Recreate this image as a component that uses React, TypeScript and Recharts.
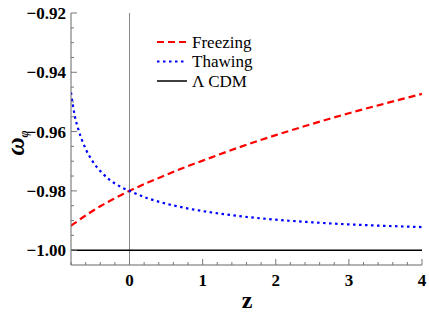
import React from 'react';
import { LineChart, Line, XAxis, YAxis, ReferenceLine, Legend } from 'recharts';

const zValues = [-0.8, -0.775, -0.75, -0.7, -0.6, -0.5, -0.4, -0.3, -0.2, -0.1, 0, 0.25, 0.5, 0.75, 1, 1.5, 2, 2.5, 3, 3.5, 4];
const freezing = [-0.9918, -0.9913, -0.9909, -0.99, -0.9883, -0.9867, -0.9852, -0.9838, -0.9825, -0.9812, -0.98, -0.9772, -0.9746, -0.9721, -0.9698, -0.9653, -0.9612, -0.9574, -0.9538, -0.9505, -0.9473];
const thawing = [-0.9468, -0.951, -0.9545, -0.9592, -0.9658, -0.9702, -0.9733, -0.9757, -0.9775, -0.9789, -0.98, -0.9825, -0.9843, -0.9857, -0.9868, -0.9885, -0.9897, -0.9906, -0.9913, -0.9918, -0.9922];
const lcdm = [-1, -1, -1, -1, -1, -1, -1, -1, -1, -1, -1, -1, -1, -1, -1, -1, -1, -1, -1, -1, -1];

const seriesNames = ['Freezing', 'Thawing', '\u039B CDM'];

const xMajorTicks = [0, 1, 2, 3, 4];
const xTickLabels = ['0', '1', '2', '3', '4'];
const xMinorTicks = [-0.8, -0.6, -0.4, -0.2, 0.2, 0.4, 0.6, 0.8, 1.2, 1.4, 1.6, 1.8, 2.2, 2.4, 2.6, 2.8, 3.2, 3.4, 3.6, 3.8];
const yMajorTicks = [-1.0, -0.98, -0.96, -0.94, -0.92];
const yTickLabels = ['\u22121.00', '\u22120.98', '\u22120.96', '\u22120.94', '\u22120.92'];
const yMinorTicks = [-0.995, -0.99, -0.985, -0.975, -0.97, -0.965, -0.955, -0.95, -0.945, -0.935, -0.93, -0.925];

const data = zValues.map((z, i) => ({ z, freezing: freezing[i], thawing: thawing[i], lcdm: lcdm[i] }));

const xAll = [...xMinorTicks, ...xMajorTicks].sort((a, b) => a - b);
const yAll = [...yMinorTicks, ...yMajorTicks].sort((a, b) => a - b);

const FONT = "'Liberation Serif', 'Nimbus Roman', 'Nimbus Roman No9 L', FreeSerif, 'Noto Serif', 'DejaVu Serif', 'Times New Roman', serif";
const TICK_COLOR = '#777';
const FRAME_COLOR = '#666';

const findMajor = (arr: number[], v: number) => arr.findIndex((t) => Math.abs(t - v) < 1e-6);

const XTickBottom = (props: any) => {
  const { x, y, payload } = props;
  const idx = findMajor(xMajorTicks, payload.value);
  const major = idx >= 0;
  return (
    <g>
      <line x1={x} x2={x} y1={y} y2={y - (major ? 6 : 3)} stroke={TICK_COLOR} strokeWidth={1} />
      {major && (
        <text x={x} y={y + 21} textAnchor="middle" style={{ fontFamily: FONT }} fontWeight="bold" fontSize={17} fill="#000">
          {xTickLabels[idx]}
        </text>
      )}
    </g>
  );
};

const XTickTop = (props: any) => {
  const { x, y, payload } = props;
  const major = findMajor(xMajorTicks, payload.value) >= 0;
  return <line x1={x} x2={x} y1={y} y2={y + (major ? 6 : 3)} stroke={TICK_COLOR} strokeWidth={1} />;
};

const YTickLeft = (props: any) => {
  const { x, y, payload } = props;
  const idx = findMajor(yMajorTicks, payload.value);
  const major = idx >= 0;
  return (
    <g>
      <line x1={x} x2={x + (major ? 6 : 3)} y1={y} y2={y} stroke={TICK_COLOR} strokeWidth={1} />
      {major && (
        <text x={x - 5} y={y + 6} textAnchor="end" style={{ fontFamily: FONT }} fontWeight="bold" fontSize={17} fill="#000">
          {yTickLabels[idx]}
        </text>
      )}
    </g>
  );
};

const YTickRight = (props: any) => {
  const { x, y, payload } = props;
  const major = findMajor(yMajorTicks, payload.value) >= 0;
  return <line x1={x} x2={x - (major ? 6 : 3)} y1={y} y2={y} stroke={TICK_COLOR} strokeWidth={1} />;
};

const legendStyles = [
  { color: '#ff0000', dash: '7 4' },
  { color: '#0000ff', dash: '2.5 3.5' },
  { color: '#000000', dash: '' },
];

const renderLegend = () => (
  <svg width={140} height={64} style={{ display: 'block' }}>
    {seriesNames.map((name, i) => {
      const cy = 10 + i * 19.5;
      const st = legendStyles[i];
      return (
        <g key={name}>
          <line x1={2} x2={32} y1={cy} y2={cy} stroke={st.color} strokeWidth={i === 2 ? 1.5 : 2} strokeDasharray={st.dash || undefined} />
          <text x={37} y={cy + 5.5} style={{ fontFamily: FONT }} fontSize={17} fill="#000">
            {name}
          </text>
        </g>
      );
    })}
  </svg>
);

const YLabel = () => (
  <text transform="translate(24,143) rotate(-90)" textAnchor="middle" style={{ fontFamily: FONT }} fontWeight="bold" fill="#000">
    <tspan fontSize={25} fontStyle="italic">{'\u03C9'}</tspan>
    <tspan fontSize={12} fontStyle="italic" dy={4}>{'\u03C6'}</tspan>
  </text>
);

const XLabel = () => (
  <text x={247} y={308} textAnchor="middle" style={{ fontFamily: FONT }} fontWeight="bold" fontSize={24} fill="#000">
    z
  </text>
);

export default function App() {
  return (
    <div style={{ position: 'absolute', left: 0, top: 0, width: 429, height: 319, background: '#fff' }}>
      <LineChart width={429} height={319} data={data} margin={{ top: 13, right: 7, bottom: 0, left: 0 }}>
        <XAxis
          dataKey="z"
          type="number"
          domain={[-0.8, 4]}
          ticks={xAll}
          interval={0}
          allowDataOverflow
          height={54}
          tickSize={0}
          tickMargin={0}
          tickLine={false}
          axisLine={{ stroke: FRAME_COLOR }}
          tick={<XTickBottom />}
          label={<XLabel />}
        />
        <XAxis
          xAxisId="top"
          orientation="top"
          dataKey="z"
          type="number"
          domain={[-0.8, 4]}
          ticks={xAll}
          interval={0}
          allowDataOverflow
          height={0}
          tickSize={0}
          tickMargin={0}
          tickLine={false}
          axisLine={{ stroke: FRAME_COLOR }}
          tick={<XTickTop />}
        />
        <YAxis
          type="number"
          domain={[-1.005, -0.92]}
          ticks={yAll}
          interval={0}
          allowDataOverflow
          width={71}
          tickSize={0}
          tickMargin={0}
          tickLine={false}
          axisLine={{ stroke: FRAME_COLOR }}
          tick={<YTickLeft />}
          label={<YLabel />}
        />
        <YAxis
          yAxisId="right"
          orientation="right"
          type="number"
          domain={[-1.005, -0.92]}
          ticks={yAll}
          interval={0}
          allowDataOverflow
          width={0}
          tickSize={0}
          tickMargin={0}
          tickLine={false}
          axisLine={{ stroke: FRAME_COLOR }}
          tick={<YTickRight />}
        />
        <ReferenceLine x={0} stroke="#888" strokeWidth={1} />
        <Line type="monotone" dataKey="lcdm" name={seriesNames[2]} stroke="#000" strokeWidth={1.5} dot={false} isAnimationActive={false} />
        <Line type="monotone" dataKey="freezing" name={seriesNames[0]} stroke="#ff0000" strokeWidth={2.2} strokeDasharray="7 4" dot={false} isAnimationActive={false} />
        <Line type="monotone" dataKey="thawing" name={seriesNames[1]} stroke="#0000ff" strokeWidth={2.2} strokeDasharray="2.5 3.5" dot={false} isAnimationActive={false} />
        <Legend
          layout="vertical"
          align="center"
          verticalAlign="middle"
          content={renderLegend}
          wrapperStyle={{ position: 'absolute', left: 155, top: 32, width: 140, height: 64 }}
        />
      </LineChart>
    </div>
  );
}
